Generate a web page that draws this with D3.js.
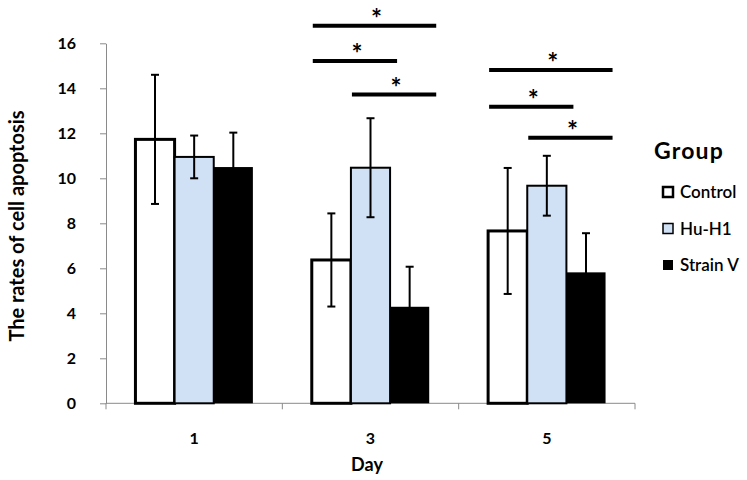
<!DOCTYPE html>
<html><head><meta charset="utf-8">
<script src="https://cdn.jsdelivr.net/npm/d3@7"></script>
<style>body{margin:0;background:#fff}svg{display:block}text{font-family:Lato,"Open Sans",sans-serif}</style>
</head><body>
<script>
const days = ["1", "3", "5"];
const groups = ["Control", "Hu-H1", "Strain V"];
const controlMean = [11.73, 6.37, 7.66];
const controlErr = [2.87, 2.07, 2.8];
const huH1Mean = [10.95, 10.47, 9.67];
const huH1Err = [0.95, 2.2, 1.33];
const strainVMean = [10.5, 4.29, 5.82];
const strainVErr = [1.53, 1.78, 1.74];
const yTicks = [0, 2, 4, 6, 8, 10, 12, 14, 16];
// significance brackets: day, from group, to group, level (y units)
const sigDay = ["3", "3", "3", "5", "5", "5"];
const sigFrom = [0, 0, 1, 0, 0, 1];
const sigTo = [2, 1, 2, 2, 1, 2];
const sigLevel = [16.78, 15.21, 13.72, 14.81, 13.18, 11.8];

const W = 747, H = 480;
const svg = d3.select("body").append("svg").attr("width", W).attr("height", H);
const x = d3.scaleBand().domain(days).range([106, 635]).paddingInner(0).paddingOuter(0);
const bw = x.bandwidth() * 0.222;
const xs = d3.scaleBand().domain(groups).range([(x.bandwidth() - 3 * bw) / 2, (x.bandwidth() + 3 * bw) / 2]);
const y = d3.scaleLinear().domain([0, 16]).range([403.3, 43.3]);

const means = [controlMean, huH1Mean, strainVMean];
const errs = [controlErr, huH1Err, strainVErr];
const fills = ["#ffffff", "#d0e1f5", "#000000"];
const strokeW = [3, 2, 0];

// axes
const yAxis = svg.append("g").attr("transform", "translate(106,0)")
  .call(d3.axisLeft(y).tickValues(yTicks).tickSize(6).tickSizeOuter(0).tickPadding(24));
yAxis.select(".domain").attr("stroke", "#8a8a8a");
yAxis.selectAll(".tick line").attr("stroke", "#8a8a8a");
yAxis.selectAll("text").attr("font-size", 16).attr("font-weight", "bold").attr("fill", "#000");

const xAxisG = svg.append("g").attr("transform", "translate(0,403.3)");
xAxisG.append("line").attr("x1", 106).attr("x2", 635).attr("stroke", "#8a8a8a");
const bounds = days.map(d => x(d)).concat([x(days[2]) + x.bandwidth()]);
xAxisG.selectAll(".xt").data(bounds).join("line").attr("class", "xt")
  .attr("x1", d => d).attr("x2", d => d).attr("y1", 0).attr("y2", 6).attr("stroke", "#8a8a8a");
xAxisG.selectAll(".xl").data(days).join("text").attr("class", "xl")
  .attr("x", d => x(d) + x.bandwidth() / 2).attr("y", 41)
  .attr("text-anchor", "middle").attr("font-size", 16).attr("font-weight", "bold").text(d => d);

svg.append("text").attr("x", 367).attr("y", 471).attr("text-anchor", "middle")
  .attr("font-size", 18).attr("font-weight", "bold").text("Day");
svg.append("text").attr("transform", "translate(24,226) rotate(-90)").attr("text-anchor", "middle")
  .attr("font-size", 20).attr("font-weight", "bold").text("The rates of cell apoptosis");

// bars
groups.forEach((g, gi) => {
  const gg = svg.append("g");
  gg.selectAll("rect").data(days).join("rect")
    .attr("x", d => x(d) + xs(g))
    .attr("y", (d, i) => y(means[gi][i]))
    .attr("width", bw)
    .attr("height", (d, i) => y(0) - y(means[gi][i]))
    .attr("fill", fills[gi])
    .attr("stroke", "#000").attr("stroke-width", strokeW[gi]);
});
// error bars
groups.forEach((g, gi) => {
  days.forEach((d, i) => {
    const cx = x(d) + xs(g) + bw / 2;
    const hi = y(means[gi][i] + errs[gi][i]), lo = y(means[gi][i] - errs[gi][i]);
    const e = svg.append("g").attr("stroke", "#000").attr("stroke-width", 2);
    e.append("line").attr("x1", cx).attr("x2", cx).attr("y1", hi).attr("y2", lo);
    e.append("line").attr("x1", cx - 4).attr("x2", cx + 4).attr("y1", hi).attr("y2", hi);
    e.append("line").attr("x1", cx - 4).attr("x2", cx + 4).attr("y1", lo).attr("y2", lo);
  });
});

// significance brackets
sigDay.forEach((d, i) => {
  const x1 = x(d) + xs(groups[sigFrom[i]]) + 1;
  const x2 = x(d) + xs(groups[sigTo[i]]) + bw + 7;
  const yy = y(sigLevel[i]);
  svg.append("line").attr("x1", x1).attr("x2", x2).attr("y1", yy).attr("y2", yy)
    .attr("stroke", "#000").attr("stroke-width", 4);
  svg.append("text").attr("x", (x1 + x2) / 2 + 2).attr("y", yy + 2).attr("text-anchor", "middle")
    .attr("font-size", 26).attr("font-weight", "bold")
    .attr("font-family", "'DejaVu Sans',sans-serif").text("*");
});

// legend
svg.append("text").attr("x", 654).attr("y", 159).attr("font-size", 23).attr("letter-spacing", 1.2)
  .attr("font-weight", "bold").text("Group");
const lg = svg.append("g").selectAll("g").data(groups).join("g")
  .attr("transform", (d, i) => `translate(663,${187 + i * 36.5})`);
lg.append("rect").attr("width", 10).attr("height", 10)
  .attr("fill", (d, i) => fills[i]).attr("stroke", "#000").attr("stroke-width", (d, i) => [2.5, 1.5, 0][i]);
lg.append("text").attr("x", 17).attr("y", 11).attr("font-size", 17).attr("font-weight", "600").text(d => d);
</script>
</body></html>
